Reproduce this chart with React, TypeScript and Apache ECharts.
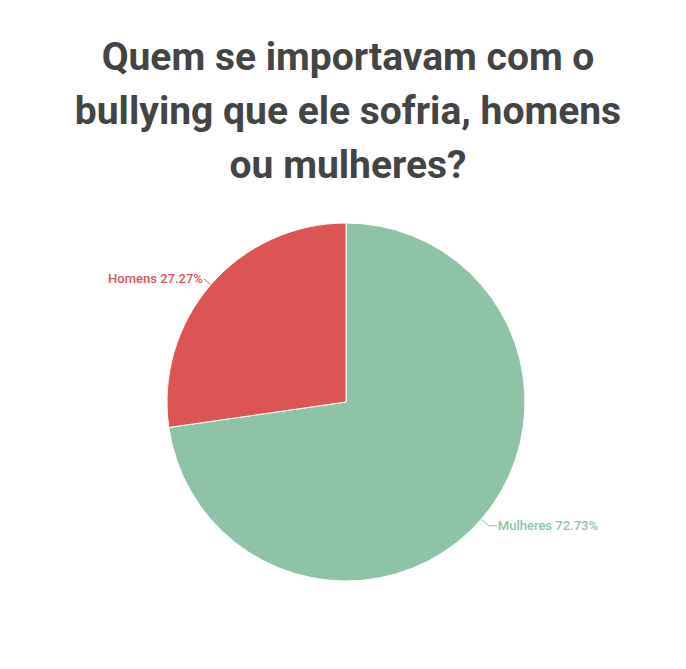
import React, { useEffect, useRef } from "react";
import * as echarts from "echarts";

const titleText = "Quem se importavam com o\nbullying que ele sofria, homens\nou mulheres?";
const categories = ["Mulheres", "Homens"];
const values = [8, 3];
const colors = ["#8ec3a7", "#dc5555"];
const lineLen = [10, 9];
const lineLen2 = [8, 0];

export default function App() {
  const ref = useRef<HTMLDivElement>(null);
  useEffect(() => {
    if (!ref.current) return;
    const chart = echarts.init(ref.current, null, { renderer: "svg" });
    chart.setOption({
      animation: false,
      backgroundColor: "#ffffff",
      title: {
        text: titleText,
        left: 343,
        top: 25,
        textAlign: "center",
        textStyle: {
          fontFamily: "Roboto",
          fontWeight: "bold",
          fontSize: 39,
          lineHeight: 54,
          color: "#444444",
          align: "center",
        },
      },
      series: [
        {
          type: "pie",
          center: [346, 402],
          radius: 179,
          startAngle: 90,
          clockwise: true,
          data: categories.map((c, i) => ({
            name: c,
            value: values[i],
            itemStyle: { color: colors[i] },
            label: { color: colors[i] },
            labelLine: { length: lineLen[i], length2: lineLen2[i], lineStyle: { color: colors[i] } },
          })),
          itemStyle: { borderColor: "#ffffff", borderWidth: 1 },
          label: {
            show: true,
            position: "outside",
            fontFamily: "Roboto",
            fontSize: 13,
            fontWeight: 500,
            distanceToLabelLine: 1,
            formatter: (p: any) => `${p.name} ${p.percent.toFixed(2)}%`,
          },
          percentPrecision: 2,
          labelLine: { show: true, lineStyle: { width: 1 } },
        },
      ],
    });
    return () => chart.dispose();
  }, []);
  return (
    <div
      ref={ref}
      style={{ position: "absolute", left: 0, top: 0, width: 686, height: 669 }}
    />
  );
}
